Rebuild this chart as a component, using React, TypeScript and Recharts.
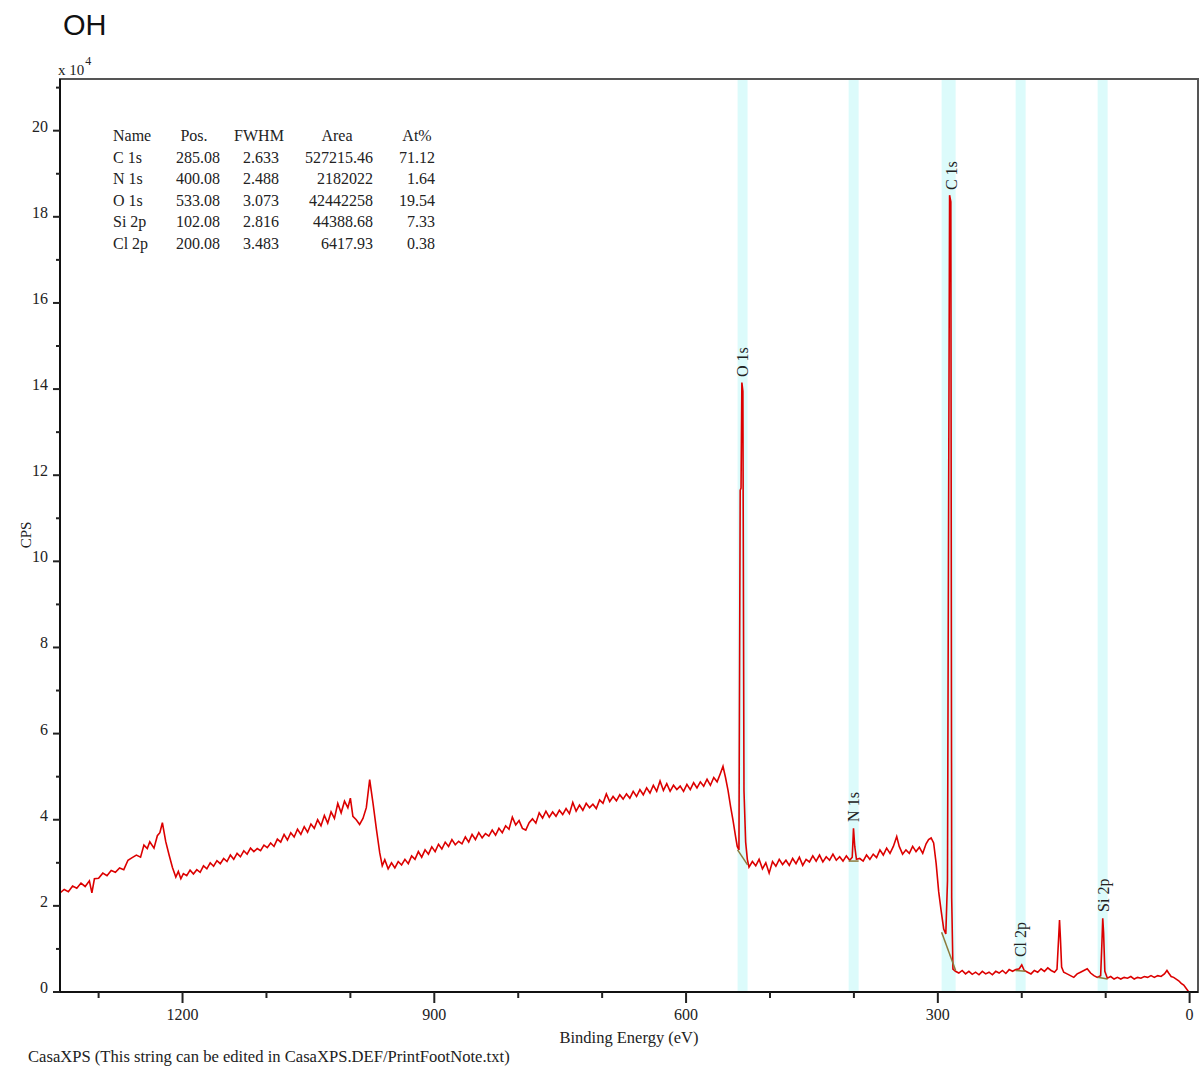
import { LineChart, Line, XAxis, YAxis, ReferenceArea, ReferenceDot } from 'recharts';

// survey spectrum (binding energy in eV, counts in units of 10^4 CPS)
const bindingEnergy = [
  1346, 1341, 1336, 1331, 1326, 1321, 1316, 1311, 1308, 1305, 1300, 1295, 1290, 1285, 1280, 1275, 1270, 1265,
  1260, 1255, 1250, 1246, 1242, 1239, 1234, 1230, 1227, 1224, 1220, 1216, 1212, 1208, 1205, 1202, 1199, 1195,
  1191, 1187, 1183, 1179, 1175, 1171, 1167, 1163, 1159, 1155, 1151, 1147, 1143, 1139, 1135, 1131, 1127, 1123,
  1119, 1115, 1111, 1107, 1103, 1099, 1095, 1091, 1087, 1083, 1079, 1075, 1071, 1067, 1063, 1059, 1055, 1051,
  1047, 1043, 1039, 1035, 1031, 1027, 1023, 1019, 1015, 1011, 1007, 1003, 1000, 997, 993, 989, 985, 981, 977,
  973, 969, 965, 962, 959, 955, 951, 947, 943, 939, 935, 931, 927, 923, 919, 915, 911, 907, 903, 899, 895, 891,
  887, 883, 879, 875, 871, 867, 863, 859, 855, 851, 847, 843, 839, 835, 831, 827, 823, 819, 815, 811, 807, 803,
  799, 795, 791, 787, 783, 779, 775, 771, 767, 763, 759, 755, 751, 747, 743, 739, 735, 731, 727, 723, 719, 715,
  711, 707, 703, 699, 695, 691, 687, 683, 679, 675, 671, 667, 663, 659, 655, 651, 647, 643, 639, 635, 631, 627,
  623, 619, 615, 611, 607, 603, 599, 595, 591, 587, 583, 579, 575, 571, 567, 563, 559, 556, 553, 550, 547, 544,
  541, 539, 537, 535.5, 534.5, 533.5, 532.3, 531, 529, 527, 525, 521, 517, 513, 509, 505, 501, 497, 493, 489,
  485, 481, 477, 473, 469, 465, 461, 457, 453, 449, 445, 441, 437, 433, 429, 425, 421, 417, 413, 409, 405, 402,
  400.5, 399, 397, 393, 389, 385, 381, 377, 373, 369, 365, 361, 357, 353, 349, 346, 342, 338, 334, 330, 326,
  322, 318, 314, 311, 308, 305, 302, 299, 296, 293, 290.5, 288.5, 287.5, 286, 284.5, 283.5, 282, 279, 275, 271,
  267, 263, 259, 255, 251, 247, 243, 239, 235, 231, 227, 223, 219, 215, 211, 207, 203, 200, 197, 193, 189, 185,
  181, 177, 173, 169, 165, 161, 158, 156, 155, 154, 152.5, 150, 146, 142, 138, 134, 130, 126, 122, 118, 114,
  110, 106, 104.5, 103.5, 102.5, 101, 98, 94, 90, 86, 82, 78, 74, 70, 66, 62, 58, 54, 50, 46, 42, 38, 34, 30,
  27, 25, 22, 19, 16, 13, 10, 7, 4, 1,
];
const cps = [
  2.3, 2.38, 2.33, 2.46, 2.41, 2.53, 2.45, 2.58, 2.3, 2.63, 2.64, 2.76, 2.7, 2.82, 2.78, 2.88, 2.84, 3.06,
  3.12, 3.18, 3.13, 3.41, 3.33, 3.49, 3.34, 3.63, 3.7, 3.93, 3.49, 3.18, 2.89, 2.67, 2.8, 2.63, 2.75, 2.7,
  2.83, 2.74, 2.84, 2.78, 2.93, 2.86, 3.0, 2.92, 3.05, 2.98, 3.1, 3.03, 3.18, 3.08, 3.22, 3.14, 3.28, 3.2,
  3.34, 3.26, 3.33, 3.28, 3.41, 3.35, 3.46, 3.38, 3.55, 3.48, 3.66, 3.53, 3.7, 3.6, 3.78, 3.66, 3.84, 3.71,
  3.9, 3.8, 4.0, 3.86, 4.1, 3.92, 4.18, 4.03, 4.38, 4.16, 4.43, 4.28, 4.5, 4.08, 4.0, 3.89, 4.03, 4.28, 4.93,
  4.38, 3.78, 3.23, 2.93, 3.07, 2.86, 3.0, 2.88, 3.03, 2.95, 3.08, 2.98, 3.16, 3.08, 3.26, 3.13, 3.3, 3.2, 3.37, 3.26, 3.43, 3.32,
  3.48, 3.38, 3.54, 3.42, 3.5, 3.44, 3.6, 3.48, 3.66, 3.54, 3.7, 3.58, 3.68, 3.62, 3.76, 3.64, 3.8, 3.7, 3.86, 3.78, 4.06, 3.88,
  3.98, 3.8, 3.76, 3.93, 4.02, 3.92, 4.16, 4.04, 4.2, 4.06, 4.18, 4.08, 4.22, 4.12, 4.26, 4.14, 4.4, 4.2, 4.34, 4.22, 4.38, 4.28,
  4.36, 4.26, 4.46, 4.38, 4.6, 4.42, 4.54, 4.44, 4.58, 4.48, 4.6, 4.5, 4.66, 4.54, 4.7, 4.58, 4.74, 4.62, 4.8, 4.66, 4.9, 4.68,
  4.84, 4.66, 4.8, 4.7, 4.78, 4.66, 4.82, 4.7, 4.86, 4.74, 4.88, 4.78, 4.94, 4.8, 4.98, 4.88, 5.08, 5.24, 4.98, 4.68, 4.31, 3.98,
  3.61, 3.38, 3.3, 11.65, 11.7, 14.15, 13.95, 4.68, 3.48, 3.08, 2.9, 3.03, 2.93, 3.08, 2.86, 3.0, 2.76, 3.03, 2.92, 3.08,
  2.96, 3.06, 2.94, 3.1, 2.98, 3.13, 2.94, 3.08, 3.02, 3.16, 3.04, 3.18, 3.02, 3.14, 3.06, 3.2, 3.06, 3.14, 3.04, 3.16, 3.06, 3.13,
  3.8, 3.38, 3.08, 3.1, 3.04, 3.18, 3.08, 3.2, 3.12, 3.3, 3.18, 3.34, 3.22, 3.38, 3.61, 3.38, 3.2, 3.3, 3.22, 3.38, 3.26,
  3.36, 3.22, 3.44, 3.54, 3.58, 3.46, 2.98, 2.33, 1.88, 1.46, 1.35, 2.58, 9.1, 18.5, 18.35, 2.18, 0.53, 0.48, 0.44, 0.5,
  0.42, 0.48, 0.41, 0.46, 0.4, 0.48, 0.42, 0.46, 0.4, 0.48, 0.44, 0.5, 0.43, 0.52, 0.48, 0.52, 0.54, 0.63, 0.5, 0.46, 0.42, 0.5,
  0.46, 0.54, 0.48, 0.56, 0.5, 0.46, 0.53, 1.28, 1.67, 1.28, 0.58, 0.46, 0.42, 0.38, 0.34, 0.42, 0.46, 0.5, 0.54, 0.44, 0.38,
  0.34, 0.38, 1.13, 1.71, 1.38, 0.48, 0.32, 0.36, 0.3, 0.34, 0.3, 0.34, 0.32, 0.36, 0.3, 0.34, 0.32, 0.36, 0.34, 0.38, 0.34, 0.38, 0.36, 0.42,
  0.5, 0.44, 0.36, 0.34, 0.3, 0.26, 0.2, 0.16, 0.08, 0,
];

// peak regions (cyan bands) and their labels
const peakNames = ['O 1s', 'N 1s', 'C 1s', 'Cl 2p', 'Si 2p'];
const regionLow = [526.7, 394.4, 278.8, 195.4, 97.7];
const regionHigh = [538.6, 406.3, 295.5, 207.3, 109.6];
const labelEnergy = [532.6, 400.4, 283.6, 201.4, 102.5];
const labelHeight = [14.28, 3.95, 18.62, 0.81, 1.86];
// background endpoints under each peak
const bgStart = [3.3, 3.04, 1.39, 0.5, 0.34];
const bgEnd = [2.95, 3.04, 0.5, 0.48, 0.3];

// quantification table
const tableNames = ['C 1s', 'N 1s', 'O 1s', 'Si 2p', 'Cl 2p'];
const tablePos = ['285.08', '400.08', '533.08', '102.08', '200.08'];
const tableFwhm = ['2.633', '2.488', '3.073', '2.816', '3.483'];
const tableArea = ['527215.46', '2182022', '42442258', '44388.68', '6417.93'];
const tableAt = ['71.12', '1.64', '19.54', '7.33', '0.38'];

const xTicks = [1300, 1200, 1100, 1000, 900, 800, 700, 600, 500, 400, 300, 200, 100, 0];
const yTicks = Array.from({ length: 22 }, (_, i) => i);

const spectrum = bindingEnergy.map((be, i) => ({ be, cps: cps[i] }));

const SERIF = '"Liberation Serif", "Times New Roman", serif';
const INK = '#222';

const XTick = ({ x, y, payload }: any) => {
  const major = payload.value % 300 === 0;
  return (
    <g>
      <line x1={x} x2={x} y1={y} y2={y + (major ? 11 : 6)} stroke={INK} strokeWidth={2} />
      {major && (
        <text x={x} y={y + 28} textAnchor="middle" fontSize={16} fontFamily={SERIF} fill={INK}>
          {payload.value}
        </text>
      )}
    </g>
  );
};

const YTick = ({ x, y, payload }: any) => {
  const major = payload.value % 2 === 0;
  return (
    <g>
      <line x1={x - (major ? 7 : 4)} x2={x} y1={y} y2={y} stroke={INK} strokeWidth={2} />
      {major && (
        <text x={x - 12} y={y + 1} textAnchor="end" fontSize={16} fontFamily={SERIF} fill={INK}>
          {payload.value}
        </text>
      )}
    </g>
  );
};

const PeakLabel = ({ cx, cy, name }: any) => (
  <text
    x={cx}
    y={cy}
    dy="0.35em"
    transform={`rotate(-90, ${cx}, ${cy})`}
    fontSize={16}
    fontFamily={SERIF}
    fill={INK}
  >
    {name}
  </text>
);

export default function App() {
  return (
    <div style={{ position: 'absolute', left: 0, top: 0, width: 1201, height: 1070, background: '#fff' }}>
      <LineChart width={1201} height={1070} data={spectrum} margin={{ top: 79, right: 3, bottom: 48, left: 0 }}>
        <XAxis
          type="number"
          dataKey="be"
          domain={[-10, 1346]}
          reversed
          allowDataOverflow
          ticks={xTicks}
          interval={0}
          height={30}
          tickSize={0}
          tickMargin={0}
          tickLine={false}
          tick={(p: any) => <XTick {...p} />}
          axisLine={{ stroke: '#111', strokeWidth: 2 }}
        />
        <YAxis
          type="number"
          domain={[0, 21.2]}
          allowDataOverflow
          ticks={yTicks}
          interval={0}
          width={60}
          tickSize={0}
          tickMargin={0}
          tickLine={false}
          tick={(p: any) => <YTick {...p} />}
          axisLine={{ stroke: '#111', strokeWidth: 2 }}
        />
        {peakNames.map((n, i) => (
          <ReferenceArea
            key={n}
            x1={regionLow[i]}
            x2={regionHigh[i]}
            fill="#dcfbfb"
            fillOpacity={1}
            stroke="none"
          />
        ))}
        <ReferenceArea x1={-10} x2={1346} y1={0} y2={21.2} fill="none" stroke="#555" strokeWidth={2} />
        <Line
          type="linear"
          dataKey="cps"
          stroke="#dc0000"
          strokeWidth={1.6}
          dot={false}
          isAnimationActive={false}
        />
        {peakNames.map((n, i) => (
          <Line
            key={'bg' + n}
            data={[
              { be: regionHigh[i], bg: bgStart[i] },
              { be: regionLow[i], bg: bgEnd[i] },
            ]}
            dataKey="bg"
            stroke="#8c7a3c"
            strokeWidth={1.5}
            dot={false}
            isAnimationActive={false}
          />
        ))}
        {peakNames.map((n, i) => (
          <ReferenceDot
            key={'lbl' + n}
            x={labelEnergy[i]}
            y={labelHeight[i]}
            r={0}
            shape={(p: any) => <PeakLabel {...p} name={n} />}
          />
        ))}
      </LineChart>

      <svg
        width={1201}
        height={1070}
        style={{ position: 'absolute', left: 0, top: 0, pointerEvents: 'none' }}
        fontFamily={SERIF}
        fill={INK}
      >
        <text x={63} y={35} fontSize={29} fontFamily='"Liberation Sans", Arial, sans-serif' fill="#111">
          OH
        </text>
        <text x={58} y={75} fontSize={15}>
          x 10
          <tspan dx={1} dy={-10} fontSize={12}>4</tspan>
        </text>
        <text x={26} y={535} fontSize={15} textAnchor="middle" transform="rotate(-90, 26, 535)" dy="0.35em">
          CPS
        </text>
        <text x={629} y={1043} fontSize={16.5} textAnchor="middle">
          Binding Energy (eV)
        </text>
        <text x={28} y={1062} fontSize={16.6}>
          CasaXPS (This string can be edited in CasaXPS.DEF/PrintFootNote.txt)
        </text>

        <g fontSize={16}>
          <text x={113} y={141}>Name</text>
          <text x={194} y={141} textAnchor="middle">Pos.</text>
          <text x={259} y={141} textAnchor="middle">FWHM</text>
          <text x={337} y={141} textAnchor="middle">Area</text>
          <text x={417} y={141} textAnchor="middle">At%</text>
          {tableNames.map((n, i) => {
            const y = 162.5 + i * 21.5;
            return (
              <g key={n}>
                <text x={113} y={y}>{n}</text>
                <text x={220} y={y} textAnchor="end">{tablePos[i]}</text>
                <text x={279} y={y} textAnchor="end">{tableFwhm[i]}</text>
                <text x={373} y={y} textAnchor="end">{tableArea[i]}</text>
                <text x={435} y={y} textAnchor="end">{tableAt[i]}</text>
              </g>
            );
          })}
        </g>
      </svg>
    </div>
  );
}
